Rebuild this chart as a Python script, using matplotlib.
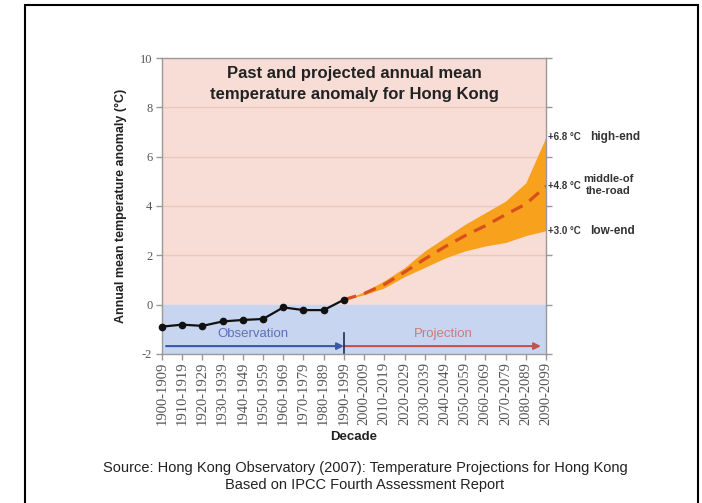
import matplotlib
matplotlib.use("Agg")
import matplotlib.pyplot as plt
from matplotlib.patches import Rectangle

# Decade categories
decades = ["1900-1909", "1910-1919", "1920-1929", "1930-1939", "1940-1949",
           "1950-1959", "1960-1969", "1970-1979", "1980-1989", "1990-1999",
           "2000-2009", "2010-2019", "2020-2029", "2030-2039", "2040-2049",
           "2050-2059", "2060-2069", "2070-2079", "2080-2089", "2090-2099"]

# Observed decadal anomalies (1900s-1990s)
observed = [-0.89, -0.81, -0.86, -0.68, -0.62, -0.58, -0.11, -0.22, -0.22, 0.20]

# Projected anomalies (1990s-2090s)
proj_mid = [0.20, 0.45, 0.82, 1.32, 1.85, 2.35, 2.80, 3.20, 3.65, 4.08, 4.80]
proj_high = [0.20, 0.52, 0.97, 1.50, 2.18, 2.72, 3.26, 3.73, 4.20, 4.94, 6.80]
proj_low = [0.20, 0.40, 0.68, 1.14, 1.51, 1.89, 2.18, 2.38, 2.52, 2.80, 3.00]

y_ticks = [-2, 0, 2, 4, 6, 8, 10]

SANS = "Liberation Sans"
SERIF = "Liberation Serif"

fig = plt.figure(figsize=(7.02, 5.03), dpi=100)
fig.patch.set_facecolor("white")

# outer frame (open at the bottom edge of the canvas)
fig.patches.append(Rectangle((25 / 702, -0.05), (698 - 25) / 702, 1.05 - 5 / 503,
                             transform=fig.transFigure, fill=False,
                             edgecolor="black", linewidth=1.5))

ax = fig.add_axes([162 / 702, 1 - 354 / 503, (546 - 162) / 702, (354 - 58) / 503])

n_obs = len(observed)
x_obs = list(range(n_obs))
x_proj = list(range(n_obs - 1, n_obs - 1 + len(proj_mid)))

ax.set_xlim(0, len(decades) - 1)
ax.set_ylim(-2, 10)

# background zones
ax.axhspan(0, 10, color="#f8ddd6", zorder=0)
ax.axhspan(-2, 0, color="#c7d5f1", zorder=0)
for yv in [2, 4, 6, 8]:
    ax.axhline(yv, color="#ebc9c1", lw=1.0, zorder=1)

# projection band and central estimate
ax.fill_between(x_proj, proj_low, proj_high, color="#f7a11c", lw=0, zorder=2)
ax.plot(x_proj, proj_mid, color="#d9501c", lw=2.3, dashes=(4, 2.6), zorder=3)

# observations
ax.plot(x_obs, observed, color="#111111", lw=1.6, marker="o", ms=4.5,
        zorder=4, clip_on=False)

# period arrows
arr_y = -1.68
ax.annotate("", xy=(n_obs - 1, arr_y), xytext=(0.2, arr_y),
            arrowprops=dict(arrowstyle="-|>", color="#3b57a6", lw=1.5,
                            mutation_scale=10, shrinkA=0, shrinkB=0), zorder=5)
ax.annotate("", xy=(len(decades) - 1.25, arr_y), xytext=(n_obs - 1, arr_y),
            arrowprops=dict(arrowstyle="-|>", color="#c8504c", lw=1.5,
                            mutation_scale=10, shrinkA=0, shrinkB=0), zorder=5)
ax.plot([n_obs - 1, n_obs - 1], [-1.15, -1.95], color="#1f2a55", lw=1.2, zorder=6)
ax.text(4.5, -1.2, "Observation", color="#5f6fb8", fontsize=9.5,
        family=SANS, ha="center", va="center")
ax.text(13.9, -1.2, "Projection", color="#d07a7a", fontsize=9.5,
        family=SANS, ha="center", va="center")

# title inside the plot
ax.text(0.5, 0.912, "Past and projected annual mean\ntemperature anomaly for Hong Kong",
        transform=ax.transAxes, ha="center", va="center", fontsize=12,
        fontweight="bold", family=SANS, color="#222222", linespacing=1.5)

# axes styling
for s in ax.spines.values():
    s.set_color("#999999")
    s.set_linewidth(1.0)
ax.set_yticks(y_ticks)
ax.set_yticklabels([str(v) for v in y_ticks], family=SERIF, fontsize=9,
                   color="#555555")
ax.set_xticks(range(len(decades)))
ax.set_xticklabels(decades, rotation=90, family=SERIF, fontsize=10.5,
                   color="#555555")
ax.tick_params(axis="both", direction="out", length=4, color="#999999",
               width=1.0, pad=3)
ax.tick_params(axis="x", pad=1.5)
ax.tick_params(axis="y", right=True)

ax.set_ylabel("Annual mean temperature anomaly (\u00b0C)", fontsize=9,
              fontweight="bold", family=SANS, color="#222222", labelpad=9)
ax.set_xlabel("Decade", fontsize=9.5, fontweight="bold", family=SANS,
              color="#222222", labelpad=4)

# end-of-century labels
end_x = len(decades) - 1
ends = [(proj_high[-1], "high-end"), (proj_mid[-1], None), (proj_low[-1], "low-end")]
for val, name in ends:
    ax.text(end_x + 0.1, val, f"+{val:.1f} \u00b0C", fontsize=7, fontweight="bold",
            family=SANS, color="#333333", ha="left", va="center", clip_on=False)
    if name:
        ax.text(end_x + 2.2, val, name, fontsize=8.5, fontweight="bold",
                family=SANS, color="#333333", ha="left", va="center",
                clip_on=False)
ax.text(end_x + 3.1, proj_mid[-1] + 0.05, "middle-of\nthe-road", fontsize=8,
        fontweight="bold", family=SANS, color="#333333", ha="center",
        va="center", clip_on=False, linespacing=1.35)

# source note
fig.text(365 / 702, 1 - 468 / 503,
         "Source: Hong Kong Observatory (2007): Temperature Projections for Hong Kong",
         ha="center", va="center", fontsize=10.5, family=SANS, color="#222222")
fig.text(365 / 702, 1 - 485 / 503, "Based on IPCC Fourth Assessment Report",
         ha="center", va="center", fontsize=10.5, family=SANS, color="#222222")

fig.savefig("out.png", dpi=100)
